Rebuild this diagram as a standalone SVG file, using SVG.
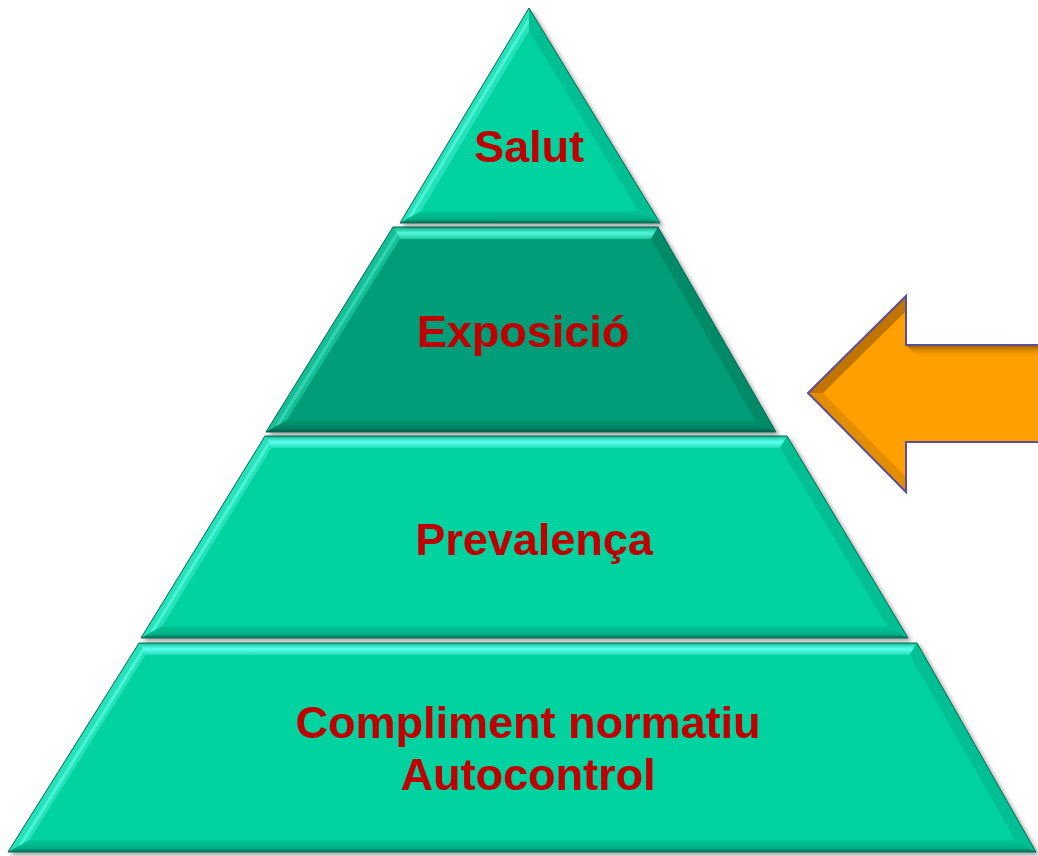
<svg xmlns="http://www.w3.org/2000/svg" width="1038" height="856" viewBox="0 0 1038 856">
<style>
.lbl{font-family:"Liberation Sans",Arial,sans-serif;font-weight:bold;font-size:45px;fill:#C00000;text-anchor:middle}
.base{fill:#00D2A0}
.dark{fill:#009E78}
.lb{fill:#26E2BA}
.rb{fill:#00BF92}
.bb{fill:url(#gBot)}
.tb{fill:url(#gTop)}
.dlb{fill:#18BE96}
.drb{fill:#008A68}
.dbb{fill:url(#gBotD)}
.dtb{fill:url(#gTopD)}
.edge{fill:none;stroke:#0A6A52;stroke-width:1}
.streak{fill:none;stroke:#66FFE8;stroke-width:3;opacity:0.6}
</style>
<defs>
<filter id="sh" x="-5%" y="-5%" width="115%" height="115%">
<feDropShadow dx="3" dy="3" stdDeviation="2" flood-color="#000" flood-opacity="0.35"/>
</filter>
<linearGradient id="gTop" x1="0" y1="0" x2="0" y2="1">
<stop offset="0" stop-color="#10C898"/>
<stop offset="0.5" stop-color="#5CFFEE"/>
<stop offset="1" stop-color="#20E0B8"/>
</linearGradient>
<linearGradient id="gBot" x1="0" y1="0" x2="0" y2="1">
<stop offset="0" stop-color="#00C898"/>
<stop offset="0.7" stop-color="#00AE86"/>
<stop offset="1" stop-color="#0A6A52"/>
</linearGradient>
<linearGradient id="gTopD" x1="0" y1="0" x2="0" y2="1">
<stop offset="0" stop-color="#10B088"/>
<stop offset="0.5" stop-color="#50F8D8"/>
<stop offset="1" stop-color="#20C8A0"/>
</linearGradient>
<linearGradient id="gBotD" x1="0" y1="0" x2="0" y2="1">
<stop offset="0" stop-color="#009672"/>
<stop offset="0.7" stop-color="#008264"/>
<stop offset="1" stop-color="#0A5040"/>
</linearGradient>
<linearGradient id="gArrTop" x1="0" y1="0" x2="0" y2="1">
<stop offset="0" stop-color="#7A4A00"/>
<stop offset="1" stop-color="#FFA000" stop-opacity="0"/>
</linearGradient>
</defs>

<g id="compliment" filter="url(#sh)">
<polygon class="base" points="139,643 917,643 1036,852 8,852"/>
<polygon class="tb" points="139,643 917,643 909.8,655 145.5,655"/>
<polygon class="lb" points="139,643 145.5,655 29.5,840 8,852"/>
<line class="streak" x1="143" y1="650" x2="20" y2="846"/>
<polygon class="rb" points="917,643 1036,852 1015.1,840 909.8,655"/>
<polygon class="bb" points="8,852 29.5,840 1015.1,840 1036,852"/>
<polygon class="edge" points="139,643 917,643 1036,852 8,852"/>
<text class="lbl" x="528" y="738">Compliment normatiu</text>
<text class="lbl" x="528" y="790">Autocontrol</text>
</g>

<g id="prevalenca" filter="url(#sh)">
<polygon class="base" points="265,436 787,436 908,638 141,638"/>
<polygon class="tb" points="265,436 787,436 780.2,448 271.6,448"/>
<polygon class="lb" points="265,436 271.6,448 162.3,626 141,638"/>
<line class="streak" x1="269" y1="443" x2="152" y2="632"/>
<polygon class="rb" points="787,436 908,638 886.8,626 780.2,448"/>
<polygon class="bb" points="141,638 162.3,626 886.8,626 908,638"/>
<polygon class="edge" points="265,436 787,436 908,638 141,638"/>
<text class="lbl" x="534" y="555">Prevalença</text>
</g>

<g id="exposicio" filter="url(#sh)">
<polygon class="dark" points="393,227 658,227 776,432 266,432"/>
<polygon class="dtb" points="393,227 658,227 651,239 400,239"/>
<polygon class="dlb" points="393,227 400,239 287,420 266,432"/>
<line class="streak" x1="397" y1="234" x2="277" y2="426" style="opacity:0.35"/>
<polygon class="drb" points="658,227 776,432 755,420 651,239"/>
<polygon class="dbb" points="266,432 287,420 755,420 776,432"/>
<polygon class="edge" points="393,227 658,227 776,432 266,432"/>
<text class="lbl" x="523" y="347">Exposició</text>
</g>

<g id="salut" filter="url(#sh)">
<polygon class="base" points="529,8 660,223 400,223"/>
<polygon class="lb" points="529,8 400,223 421.2,211 529,31"/>
<line class="streak" x1="529" y1="20" x2="410" y2="217"/>
<polygon class="rb" points="529,8 529,31 638.4,211 660,223"/>
<polygon class="bb" points="400,223 660,223 638.4,211 421.2,211"/>
<polygon class="edge" points="529,8 660,223 400,223"/>
<text class="lbl" x="529" y="162">Salut</text>
</g>

<g id="arrow">
<polygon points="808,393 906,296 906,345 1040,345 1040,442 906,442 906,492" fill="#FFA000"/>
<polygon points="808,393 906,296 906,311 823,393" fill="#8A5200" opacity="0.55"/>
<polygon points="906,345 1040,345 1040,358 918,358" fill="url(#gArrTop)" opacity="0.8"/>
<polygon points="808,393 823,393 906,477 906,492" fill="#B06A00" opacity="0.35"/>
<polygon points="808,393 906,296 906,345 1040,345 1040,442 906,442 906,492" fill="none" stroke="#5E4E96" stroke-width="2" stroke-linejoin="miter"/>
</g>
</svg>
